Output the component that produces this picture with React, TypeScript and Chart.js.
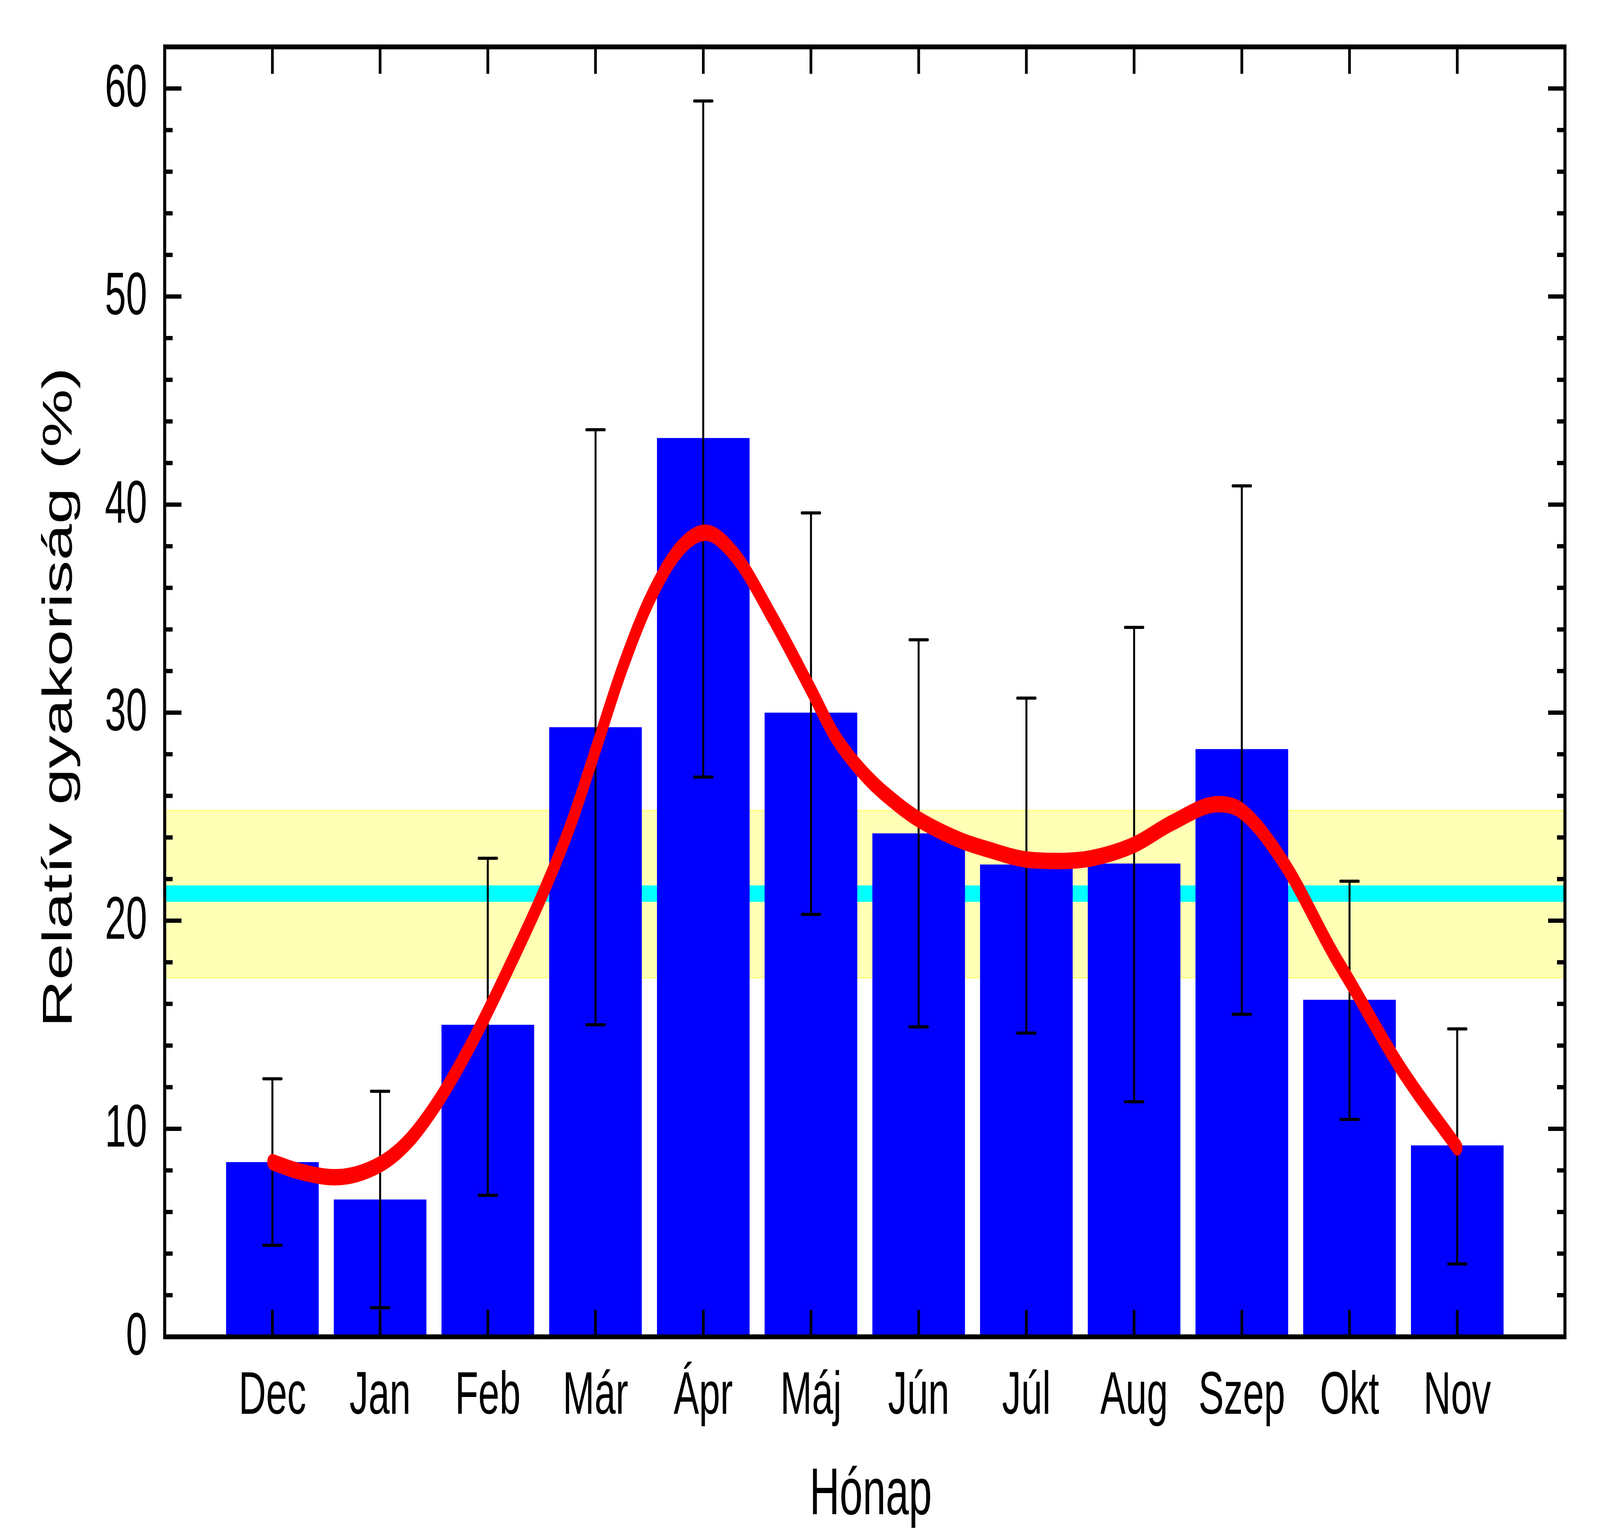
import React, { useEffect, useRef } from "react";
import { Chart, registerables } from "chart.js";

Chart.register(...registerables);

// ---------- data ----------
const months = ["Dec", "Jan", "Feb", "Már", "Ápr", "Máj", "Jún", "Júl", "Aug", "Szep", "Okt", "Nov"];
const barValues = [8.4, 6.6, 15.0, 29.3, 43.2, 30.0, 24.2, 22.7, 22.75, 28.25, 16.2, 9.2];
const errHigh = [12.4, 11.8, 23.0, 43.6, 59.4, 39.6, 33.5, 30.7, 34.1, 40.9, 21.9, 14.8];
const errLow = [4.4, 1.4, 6.8, 15.0, 26.9, 20.3, 14.9, 14.6, 11.3, 15.5, 10.45, 3.5];

const curveX = [0, 0.23, 0.58, 1.0, 1.27, 1.55, 1.8, 2.0, 2.24, 2.5, 2.77, 3.0, 3.24, 3.5, 3.77, 4.02, 4.29, 4.64, 5.0, 5.22, 5.51, 5.81, 6.0, 6.39, 6.64, 7.0, 7.3, 7.6, 8.0, 8.35, 8.78, 9.0, 9.4, 9.84, 10.0, 10.47, 11.0];
const curveY = [8.4, 7.98, 7.67, 8.29, 9.44, 11.4, 13.63, 15.64, 18.23, 21.17, 24.62, 28.2, 32.0, 35.4, 37.8, 38.65, 37.6, 34.6, 31.1, 28.9, 26.97, 25.57, 24.87, 23.86, 23.43, 22.94, 22.87, 23.0, 23.65, 24.7, 25.6, 25.27, 22.7, 18.5, 17.1, 12.95, 9.1];

const meanValue = 21.3;
const bandLow = 17.25;
const bandHigh = 25.3;

const yTickValues = [0, 10, 20, 30, 40, 50, 60];
const yMin = 0;
const yMax = 62;
const xMin = -1;
const xMax = 12;

const xTitle = "Hónap";
const yTitle = "Relatív gyakoriság (%)";

// ---------- drawing surface (reference pixel space) ----------
const W = 6481;
const H = 3937;
const FONT = "'Liberation Sans', Arial, Helvetica, sans-serif";

const decorPlugin = {
  id: "decor",
  beforeDatasetsDraw(chart: any) {
    const { ctx, chartArea: a, scales } = chart;
    const y = scales.y;
    const yt = y.getPixelForValue(bandHigh);
    const yb = y.getPixelForValue(bandLow);
    ctx.save();
    ctx.fillStyle = "rgba(255,255,0,0.29)";
    ctx.fillRect(a.left, yt, a.right - a.left, yb - yt);
    ctx.strokeStyle = "rgba(255,255,0,0.45)";
    ctx.lineWidth = 3;
    ctx.beginPath();
    ctx.moveTo(a.left, yt);
    ctx.lineTo(a.right, yt);
    ctx.moveTo(a.left, yb);
    ctx.lineTo(a.right, yb);
    ctx.stroke();
    const ym = y.getPixelForValue(meanValue);
    ctx.strokeStyle = "#00FFFF";
    ctx.lineWidth = 42;
    ctx.beginPath();
    ctx.moveTo(a.left, ym);
    ctx.lineTo(a.right, ym);
    ctx.stroke();
    ctx.restore();
  },
  afterDatasetDraw(chart: any, args: any) {
    if (args.index !== 1) return;
    const { ctx, scales } = chart;
    const x = scales.x;
    const y = scales.y;
    ctx.save();
    ctx.strokeStyle = "#000";
    ctx.lineWidth = 8;
    ctx.lineCap = "round";
    const cap = 37;
    months.forEach((_, i) => {
      const px = x.getPixelForValue(i);
      const yh = y.getPixelForValue(errHigh[i]);
      const yl = y.getPixelForValue(errLow[i]);
      ctx.beginPath();
      ctx.moveTo(px, yh);
      ctx.lineTo(px, yl);
      ctx.moveTo(px - cap, yh);
      ctx.lineTo(px + cap, yh);
      ctx.moveTo(px - cap, yl);
      ctx.lineTo(px + cap, yl);
      ctx.stroke();
    });
    ctx.restore();
  },
  afterDraw(chart: any) {
    const { ctx, chartArea: a, scales } = chart;
    const x = scales.x;
    const y = scales.y;
    ctx.save();
    // inward ticks
    ctx.strokeStyle = "#000";
    ctx.lineCap = "butt";
    ctx.lineWidth = 11;
    ctx.beginPath();
    for (let v = 2; v <= 60; v += 2) {
      const py = y.getPixelForValue(v);
      const len = v % 10 === 0 ? 68 : 32;
      ctx.moveTo(a.left, py);
      ctx.lineTo(a.left + len, py);
      ctx.moveTo(a.right, py);
      ctx.lineTo(a.right - len, py);
    }
    months.forEach((_, i) => {
      const px = x.getPixelForValue(i);
      ctx.moveTo(px, a.bottom);
      ctx.lineTo(px, a.bottom - 69);
      ctx.moveTo(px, a.top);
      ctx.lineTo(px, a.top + 69);
    });
    ctx.stroke();
    // frame
    ctx.lineWidth = 12.5;
    ctx.lineJoin = "miter";
    ctx.strokeRect(a.left, a.top, a.right - a.left, a.bottom - a.top);

    // tick labels
    ctx.fillStyle = "#000";
    ctx.font = `154px ${FONT}`;
    ctx.textAlign = "right";
    ctx.textBaseline = "alphabetic";
    yTickValues.forEach((v) => {
      ctx.fillText(String(v), a.left - 71, y.getPixelForValue(v) + 46);
    });
    ctx.textAlign = "center";
    months.forEach((m, i) => {
      ctx.fillText(m, x.getPixelForValue(i), a.bottom + 197);
    });

    // axis titles
    ctx.font = `168px ${FONT}`;
    ctx.textAlign = "center";
    ctx.fillText(xTitle, (a.left + a.right) / 2 + 24, a.bottom + 454);
    ctx.translate(290, (a.top + a.bottom) / 2 + 14);
    ctx.rotate(-Math.PI / 2);
    ctx.fillText(yTitle, 0, 0);
    ctx.restore();
  },
};

export default function App() {
  const canvasRef = useRef<HTMLCanvasElement | null>(null);

  useEffect(() => {
    document.body.style.margin = "0";
    document.body.style.overflow = "hidden";
    const canvas = canvasRef.current;
    if (!canvas) return;
    const chart = new Chart(canvas, {
      type: "bar",
      data: {
        datasets: [
          {
            type: "line",
            label: "Illesztett görbe",
            data: curveX.map((cx, i) => ({ x: cx, y: curveY[i] })),
            borderColor: "#FF0000",
            borderWidth: 42,
            borderCapStyle: "round",
            borderJoinStyle: "round",
            pointRadius: 0,
            fill: false,
            cubicInterpolationMode: "monotone",
            order: 0,
          } as any,
          {
            type: "bar",
            label: "Relatív gyakoriság",
            data: barValues.map((v, i) => ({ x: i, y: v })),
            backgroundColor: "#0000FF",
            borderWidth: 0,
            barPercentage: 0.86,
            categoryPercentage: 1,
            order: 1,
          } as any,
        ],
      },
      options: {
        animation: false,
        responsive: false,
        devicePixelRatio: 1,
        layout: { padding: { left: 667, top: 120, right: 142, bottom: 515 } },
        plugins: { legend: { display: false }, tooltip: { enabled: false } },
        scales: {
          x: { type: "linear", min: xMin, max: xMax, offset: false, display: false },
          y: { type: "linear", min: yMin, max: yMax, display: false },
        },
      } as any,
      plugins: [decorPlugin],
    });
    return () => chart.destroy();
  }, []);

  return (
    <div style={{ position: "fixed", left: 0, top: 0, right: 0, bottom: 0, background: "#fff", overflow: "hidden" }}>
      <canvas
        ref={canvasRef}
        width={W}
        height={H}
        style={{ display: "block", width: "100%", height: "100%" }}
      />
    </div>
  );
}
